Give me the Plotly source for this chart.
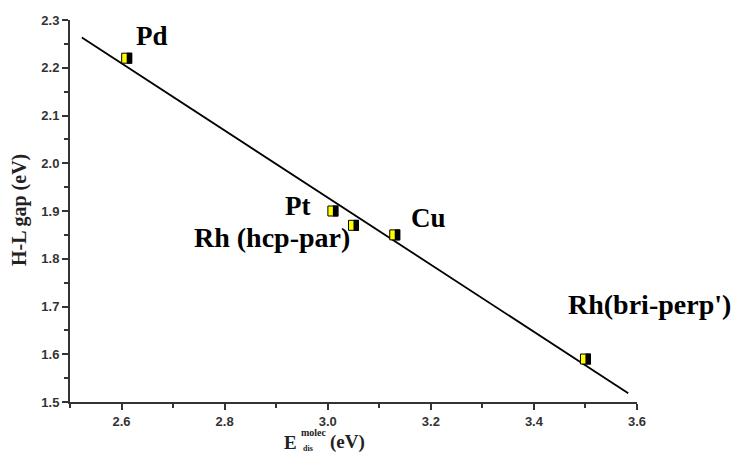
import numpy as np
import plotly.graph_objects as go

labels = ["Pd", "Pt", "Rh (hcp-par)", "Cu", "Rh(bri-perp')"]
e_dis = [2.61, 3.01, 3.05, 3.13, 3.50]
hl_gap = [2.22, 1.90, 1.87, 1.85, 1.59]
fit_x_range = [2.523, 3.583]

slope, intercept = np.polyfit(e_dis, hl_gap, 1)
fx = np.array(fit_x_range)
fy = slope * fx + intercept

SERIF = "Times New Roman, Liberation Serif, DejaVu Serif, serif"

fig = go.Figure()
fig.add_trace(go.Scatter(x=fx, y=fy, mode="lines",
                         line=dict(color="black", width=1.8), showlegend=False))
fig.add_trace(go.Scatter(x=e_dis, y=hl_gap, mode="markers",
                         marker=dict(symbol="square", size=10, color="#ffff00",
                                     line=dict(color="black", width=1)),
                         showlegend=False))
for xv, yv in zip(e_dis, hl_gap):
    fig.add_shape(type="rect", xref="x", yref="y", xsizemode="pixel", ysizemode="pixel",
                  xanchor=xv, yanchor=yv, x0=0, x1=5.5, y0=-5.5, y1=5.5,
                  fillcolor="black", line=dict(width=0))

offsets = {
    "Pd": (7, 22, "left", 27),
    "Pt": (-21, 5, "right", 27),
    "Rh (hcp-par)": (-2, -12, "right", 28),
    "Cu": (14, 17, "left", 27),
    "Rh(bri-perp')": (-19, 55, "left", 28),
}
for lab, xv, yv in zip(labels, e_dis, hl_gap):
    dx, dy, al, fs = offsets[lab]
    fig.add_annotation(x=xv, y=yv, text="<b>" + lab + "</b>", showarrow=False,
                       xshift=dx, yshift=dy, xanchor=al, yanchor="middle",
                       font=dict(family=SERIF, size=fs, color="black"))

# axis titles
tc = "#222"
fig.add_annotation(xref="paper", yref="paper", x=-0.088, y=0.503, text="<b>H-L gap (eV)</b>",
                   textangle=-90, showarrow=False,
                   font=dict(family=SERIF, size=20, color=tc),
                   xanchor="center", yanchor="middle")
xe = 0.404
ys = -40
fig.add_annotation(xref="paper", yref="paper", x=xe, y=0, yshift=ys, text="<b>E</b>",
                   showarrow=False, font=dict(family=SERIF, size=19, color=tc),
                   xanchor="right", yanchor="middle")
fig.add_annotation(xref="paper", yref="paper", x=xe, y=0, yshift=ys + 10, text="<b>molec</b>",
                   showarrow=False, font=dict(family=SERIF, size=10, color=tc),
                   xanchor="left", yanchor="middle")
fig.add_annotation(xref="paper", yref="paper", x=xe, y=0, yshift=ys - 6, xshift=2, text="<b>dis</b>",
                   showarrow=False, font=dict(family=SERIF, size=8, color=tc),
                   xanchor="left", yanchor="middle")
fig.add_annotation(xref="paper", yref="paper", x=xe, y=0, yshift=ys, xshift=29, text="<b>(eV)</b>",
                   showarrow=False, font=dict(family=SERIF, size=19, color=tc),
                   xanchor="left", yanchor="middle")

axis_common = dict(showline=True, linecolor="#333", linewidth=2, ticks="outside",
                   ticklen=6, tickwidth=2, tickcolor="#333", showgrid=False, zeroline=False,
                   tickfont=dict(family="Liberation Sans", size=13, color="#333", weight="bold"),
                   mirror=False)
fig.update_xaxes(range=[2.5, 3.6], dtick=0.2, tick0=2.6, tickformat=".1f",
                 minor=dict(dtick=0.1, ticks="outside", ticklen=4, tickwidth=2, tickcolor="#333"),
                 **axis_common)
fig.update_yaxes(range=[1.5, 2.3], dtick=0.1, tick0=1.5, tickformat=".1f",
                 minor=dict(dtick=0.05, ticks="outside", ticklen=4, tickwidth=2, tickcolor="#333"),
                 **axis_common)
fig.update_layout(width=735, height=454, margin=dict(l=70, r=98, t=20, b=52),
                  plot_bgcolor="white", paper_bgcolor="white")
fig.write_html("out.html")
